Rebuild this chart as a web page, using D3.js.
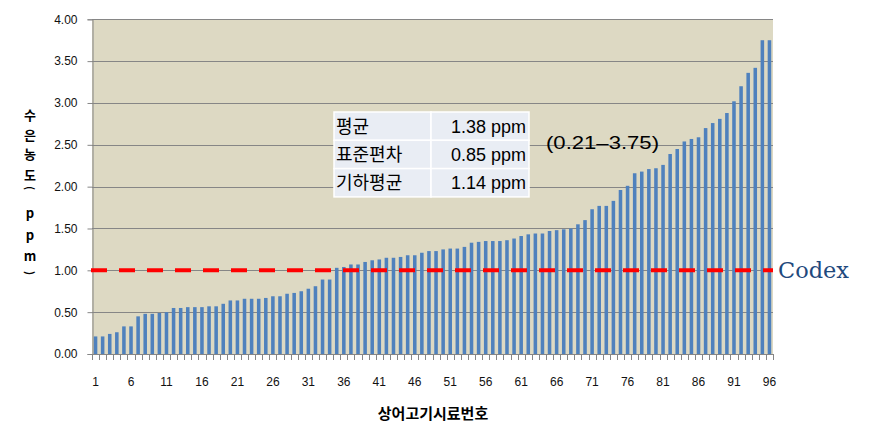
<!DOCTYPE html>
<html><head><meta charset="utf-8">
<script src="https://cdn.jsdelivr.net/npm/d3@7"></script>
<style>body{margin:0;background:#fff}svg{display:block}</style>
</head><body>
<svg id="c" width="873" height="445"></svg>
<script>
const samples = d3.range(1, 97);
const mercury = [0.21,0.21,0.24,0.26,0.33,0.33,0.45,0.48,0.48,0.49,
  0.50,0.55,0.55,0.56,0.56,0.56,0.57,0.57,0.60,0.64,
  0.64,0.66,0.66,0.66,0.67,0.69,0.69,0.72,0.73,0.75,
  0.78,0.81,0.89,0.89,1.03,1.04,1.07,1.07,1.10,1.12,
  1.13,1.15,1.15,1.16,1.18,1.18,1.21,1.23,1.23,1.25,
  1.26,1.26,1.28,1.33,1.34,1.35,1.35,1.35,1.36,1.38,
  1.41,1.43,1.44,1.44,1.47,1.48,1.49,1.50,1.55,1.60,
  1.73,1.77,1.77,1.83,1.96,2.01,2.16,2.18,2.21,2.22,
  2.26,2.39,2.45,2.54,2.57,2.59,2.70,2.76,2.81,2.88,
  3.02,3.20,3.36,3.42,3.75,3.75];
const yTicks = [0,0.5,1,1.5,2,2.5,3,3.5,4];
const xTickLabels = [1,6,11,16,21,26,31,36,41,46,51,56,61,66,71,76,81,86,91,96];
const codexLimit = 1.0;
const statLabels = ["평균","표준편차","기하평균"];
const statValues = ["1.38 ppm","0.85 ppm","1.14 ppm"];
const rangeText = "(0.21–3.75)";
const xTitle = "상어고기시료번호";
const yTitleChars = ["수","은","농","도","(","p","p","m",")"];

const svg = d3.select("#c");
const L = 92, R = 773, T = 19.3, B = 354;
const x = d3.scaleBand().domain(samples).range([L, R]).paddingInner(0.5).paddingOuter(0.25);
const y = d3.scaleLinear().domain([0, 4]).range([B, T]);
const gridColor = "#868686";
const font = "'Liberation Sans', Arial, sans-serif";
const kfont = "'Noto Sans CJK KR', sans-serif";

svg.append("rect").attr("x", L).attr("y", T).attr("width", R - L).attr("height", B - T).attr("fill", "#DDD9C3");

// gridlines
svg.append("g").selectAll("line").data(yTicks.slice(1)).join("line")
  .attr("x1", L).attr("x2", R).attr("y1", d => Math.round(y(d)) + 0.5).attr("y2", d => Math.round(y(d)) + 0.5)
  .attr("stroke", gridColor).attr("stroke-width", 1);

// bars
svg.append("g").selectAll("rect").data(mercury).join("rect")
  .attr("x", (d, i) => x(samples[i]))
  .attr("width", x.bandwidth())
  .attr("y", d => y(d))
  .attr("height", d => B - y(d))
  .attr("fill", "#4F81BD");

// y axis
const yAxis = d3.axisLeft(y).tickValues(yTicks).tickFormat(d3.format(".2f")).tickSize(5).tickPadding(10);
const gy = svg.append("g").attr("transform", `translate(${L + 0.5},0)`).call(yAxis);
gy.select(".domain").attr("stroke", gridColor);
gy.selectAll(".tick line").attr("stroke", gridColor);
gy.selectAll(".tick text").attr("font-family", font).attr("font-size", 12).attr("fill", "#111");

// x axis
const step = x.step();
const bounds = d3.range(0, samples.length + 1).map(i => L + i * step);
const gx = svg.append("g");
gx.append("line").attr("x1", L).attr("x2", R).attr("y1", B + 0.5).attr("y2", B + 0.5).attr("stroke", gridColor);
gx.selectAll("line.t").data(bounds).join("line").attr("class", "t")
  .attr("x1", d => Math.round(d) + 0.5).attr("x2", d => Math.round(d) + 0.5)
  .attr("y1", B).attr("y2", B + 6).attr("stroke", gridColor);
gx.selectAll("text").data(xTickLabels).join("text")
  .attr("x", d => x(d) + x.bandwidth() / 2)
  .attr("y", 386)
  .attr("text-anchor", "middle")
  .attr("font-family", font).attr("font-size", 12).attr("fill", "#111")
  .text(d => d);

// codex dashed line
svg.append("line")
  .attr("x1", L - 1).attr("x2", R)
  .attr("y1", y(codexLimit)).attr("y2", y(codexLimit))
  .attr("stroke", "#FF0000").attr("stroke-width", 4)
  .attr("stroke-dasharray", "16,12");
svg.append("text").attr("x", 778).attr("y", y(codexLimit) + 8)
  .attr("font-family", "'DejaVu Serif', 'Liberation Serif', serif").attr("font-size", 23)
  .attr("textLength", 71).attr("lengthAdjust", "spacingAndGlyphs")
  .attr("fill", "#1F497D").text("Codex");

// axis titles
svg.append("text").attr("x", 433).attr("y", 419).attr("text-anchor", "middle")
  .attr("font-family", kfont).attr("font-weight", "bold").attr("font-size", 15)
  .attr("fill", "#000").text(xTitle);
const yPos = [115,135,154,175,188,213,235,256,273];
svg.append("g").selectAll("text").data(yTitleChars).join("text")
  .attr("transform", (d, i) => (d === "(" || d === ")")
      ? `translate(30,${yPos[i]}) rotate(90)` : `translate(30,${yPos[i]})`)
  .attr("dy", "0.35em")
  .attr("text-anchor", "middle")
  .attr("font-family", kfont).attr("font-weight", "bold")
  .attr("font-size", (d) => (d === "(" || d === ")") ? 11 : 13)
  .attr("fill", "#000").text(d => d);

// stats table
const tx = 334, tw1 = 97, tw2 = 98, ty = 112, rh = 28.3;
const tg = svg.append("g");
statLabels.forEach((lab, i) => {
  tg.append("rect").attr("x", tx).attr("y", ty + i * rh).attr("width", tw1).attr("height", rh)
    .attr("fill", "#E9EDF4").attr("stroke", "#fff").attr("stroke-width", 1.5);
  tg.append("rect").attr("x", tx + tw1).attr("y", ty + i * rh).attr("width", tw2).attr("height", rh)
    .attr("fill", "#E9EDF4").attr("stroke", "#fff").attr("stroke-width", 1.5);
  tg.append("text").attr("x", tx + 2).attr("y", ty + i * rh + rh / 2).attr("dy", "0.36em")
    .attr("font-family", kfont).attr("font-size", 18).attr("fill", "#000").text(lab);
  tg.append("text").attr("x", tx + tw1 + tw2 - 3).attr("y", ty + i * rh + rh / 2).attr("dy", "0.36em")
    .attr("text-anchor", "end")
    .attr("font-family", font).attr("font-size", 18).attr("fill", "#000").text(statValues[i]);
});
svg.append("text").attr("x", 546).attr("y", 149)
  .attr("font-family", font).attr("font-size", 19)
  .attr("textLength", 113).attr("lengthAdjust", "spacingAndGlyphs")
  .attr("fill", "#000").text(rangeText);
</script>
</body></html>
